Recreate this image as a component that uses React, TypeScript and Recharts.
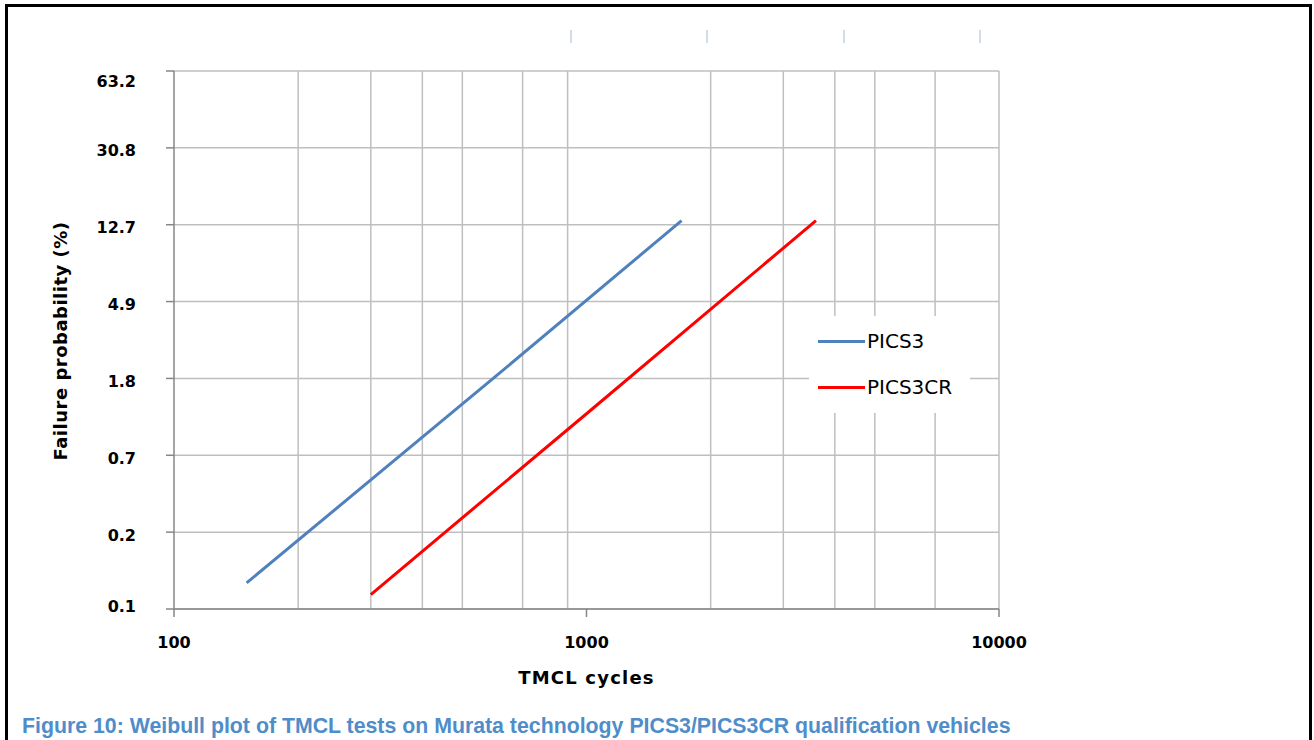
import React from "react";
import {
  LineChart,
  Line,
  XAxis,
  YAxis,
  CartesianGrid,
  Legend,
  Label,
} from "recharts";

// Weibull plot values (cycles, failure %)
const pics3Cycles = [150, 600, 1700];
const pics3Failure = [0.128, 1.85, 13.3];
const pics3crCycles = [300, 1000, 3600];
const pics3crFailure = [0.11, 1.15, 13.3];

const xTicks = [100, 1000, 10000];
const xMinor = [200, 300, 400, 500, 600, 700, 800, 900, 2000, 3000, 4000, 5000, 6000, 7000, 8000, 9000];
// y axis is ln(-ln(1-F)), labels are the matching failure %
const yTicks = [-7, -6, -5, -4, -3, -2, -1, 0];
const yTickLabels = ["0.1", "0.2", "0.7", "1.8", "4.9", "12.7", "30.8", "63.2"];

const weibull = (pct: number) => Math.log(-Math.log(1 - pct / 100));

const toPoints = (xs: number[], fs: number[]) =>
  xs.map((x, i) => ({ x, y: weibull(fs[i]) }));

const pics3Data = toPoints(pics3Cycles, pics3Failure);
const pics3crData = toPoints(pics3crCycles, pics3crFailure);

const BLUE = "#4F81BD";
const RED = "#FF0000";
const tickFont = "'DejaVu Sans', sans-serif";

const YTick = (props: any) => {
  const { x, y, payload, index } = props;
  const dy = index === yTicks.length - 1 ? 10 : index === 0 ? -3 : 3;
  return (
    <text
      x={x - 28}
      y={y + dy}
      textAnchor="end"
      dominantBaseline="central"
      fontFamily={tickFont}
      fontWeight="bold"
      fontSize={16}
      fill="#000"
    >
      {yTickLabels[yTicks.indexOf(payload.value)]}
    </text>
  );
};

const XTick = (props: any) => {
  const { x, y, payload } = props;
  return (
    <text
      x={x}
      y={y + 23}
      textAnchor="middle"
      dominantBaseline="central"
      fontFamily={tickFont}
      fontWeight="bold"
      fontSize={16}
      fill="#000"
    >
      {payload.value}
    </text>
  );
};

const LegendBox = () => (
  <div
    style={{
      position: "relative",
      width: 161,
      height: 97,
      background: "#fff",
      fontFamily: "'DejaVu Sans', sans-serif",
      fontSize: 20,
      color: "#000",
    }}
  >
    {[
      { name: "PICS3", color: BLUE, top: 25 },
      { name: "PICS3CR", color: RED, top: 71 },
    ].map((e) => (
      <div key={e.name}>
        <div
          style={{
            position: "absolute",
            left: 9,
            top: e.top - 1.5,
            width: 47,
            height: 3,
            background: e.color,
          }}
        />
        <div
          style={{
            position: "absolute",
            left: 58,
            top: e.top - 12,
            lineHeight: "24px",
          }}
        >
          {e.name}
        </div>
      </div>
    ))}
  </div>
);

const AxisTitleX = (props: any) => {
  const { viewBox } = props;
  return (
    <text
      x={viewBox.x + viewBox.width / 2}
      y={677}
      textAnchor="middle"
      dominantBaseline="central"
      fontFamily={tickFont}
      fontWeight="bold"
      fontSize={18}
      letterSpacing={1.2}
      fill="#000"
    >
      TMCL cycles
    </text>
  );
};

const AxisTitleY = () => (
  <text
    x={60}
    y={341}
    transform="rotate(-90 60 341)"
    textAnchor="middle"
    dominantBaseline="central"
    fontFamily={tickFont}
    fontWeight="bold"
    fontSize={18}
    letterSpacing={0.5}
    fill="#000"
  >
    Failure probability (%)
  </text>
);

export default function App() {
  return (
    <div
      style={{
        position: "absolute",
        left: 0,
        top: 0,
        width: 1314,
        height: 740,
        overflow: "hidden",
        background: "#fff",
      }}
    >
      <div
        style={{
          position: "absolute",
          left: 5,
          top: 4,
          width: 1307,
          height: 800,
          border: "3px solid #000",
          boxSizing: "border-box",
        }}
      />
      {[570, 706, 843, 979].map((x) => (
        <div
          key={x}
          style={{
            position: "absolute",
            left: x,
            top: 30,
            width: 1.5,
            height: 13,
            background: "#D3DAEA",
          }}
        />
      ))}
      <div style={{ position: "absolute", left: 0, top: 0 }}>
        <LineChart
          width={1314}
          height={740}
          margin={{ top: 71, right: 315, bottom: 101, left: 94 }}
        >
          <CartesianGrid
            stroke="#BFBFBF"
            strokeWidth={1.5}
            verticalValues={[...xMinor, 10000]}
            horizontalValues={yTicks}
          />
          <XAxis
            type="number"
            dataKey="x"
            scale="log"
            domain={[100, 10000]}
            ticks={xTicks}
            allowDataOverflow
            height={30}
            tick={<XTick />}
            tickSize={8}
            axisLine={{ stroke: "#868686", strokeWidth: 1.5 }}
            tickLine={{ stroke: "#868686", strokeWidth: 1.5 }}
          >
            <Label content={<AxisTitleX />} />
          </XAxis>
          <YAxis
            type="number"
            dataKey="y"
            domain={[-7, 0]}
            ticks={yTicks}
            allowDataOverflow
            width={80}
            tick={<YTick />}
            tickSize={8}
            axisLine={{ stroke: "#868686", strokeWidth: 1.5 }}
            tickLine={{ stroke: "#868686", strokeWidth: 1.5 }}
          >
            <Label content={<AxisTitleY />} />
          </YAxis>
          <Legend
            layout="vertical"
            align="center"
            verticalAlign="middle"
            content={<LegendBox />}
            wrapperStyle={{ position: "absolute", left: 809, top: 316, width: 161, height: 97 }}
          />
          <Line
            name="PICS3"
            data={pics3Data}
            dataKey="y"
            stroke={BLUE}
            strokeWidth={3}
            dot={false}
            isAnimationActive={false}
          />
          <Line
            name="PICS3CR"
            data={pics3crData}
            dataKey="y"
            stroke={RED}
            strokeWidth={3}
            dot={false}
            isAnimationActive={false}
          />
        </LineChart>
      </div>
      <div
        style={{
          position: "absolute",
          left: 22,
          top: 714,
          fontFamily: "'Liberation Sans', Arial, sans-serif",
          fontWeight: "bold",
          fontSize: 21.3,
          lineHeight: "24px",
          color: "#4F8DCA",
          whiteSpace: "nowrap",
        }}
      >
        Figure 10: Weibull plot of TMCL tests on Murata technology PICS3/PICS3CR qualification vehicles
      </div>
    </div>
  );
}
